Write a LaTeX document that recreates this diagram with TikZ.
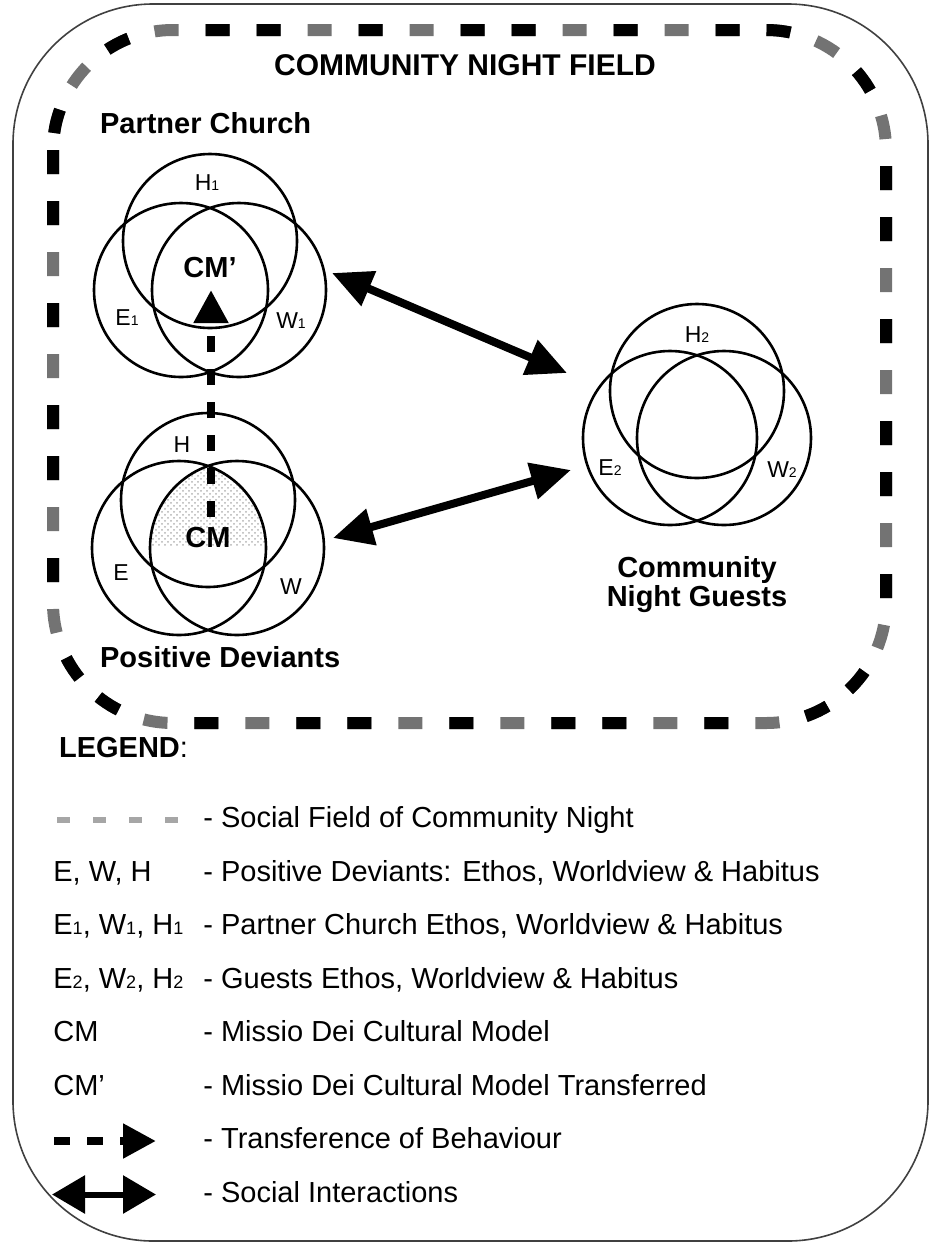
\documentclass[tikz,border=0pt]{standalone}
\usepackage{fontspec}
\setmainfont{Liberation Sans}
\usetikzlibrary{arrows.meta,patterns}
\def\vsub#1{{\fontsize{7}{8}\selectfont #1}}
\def\lsub#1{{\fontsize{9}{10}\selectfont #1}}
\tikzset{
	ring/.style={circle, draw, line width=1.3pt, minimum size=87pt, inner sep=0pt},
	vlabel/.style={font=\fontsize{11.5}{13}\selectfont},
	cmlabel/.style={font=\bfseries\fontsize{14.5}{17}\selectfont},
	grouplabel/.style={font=\bfseries\fontsize{14.5}{14.5}\selectfont},
	legtext/.style={font=\fontsize{14.5}{17}\selectfont, anchor=west, text height=10.5pt, text depth=3pt, inner sep=0pt},
	fieldline/.style={line width=6pt, rounded corners=60pt},
	legfield/.style={line width=3pt, black!35, dash pattern=on 6.5pt off 11.5pt},
	interact/.style={line width=4pt, {Triangle[length=20pt,width=18pt]}-{Triangle[length=20pt,width=18pt]}},
	transfer/.style={line width=4pt, dash pattern=on 8pt off 8.5pt, -{Triangle[length=16.5pt,width=16.5pt]}},
}

\begin{document}
\begin{tikzpicture}[x=0.5pt, y=-0.5pt]
			\useasboundingbox (0,0) rectangle (930,1244);
			
			%%%%% FRAME %%%%%
			\draw[line width=0.8pt, black!75, rounded corners=70pt] (13,4) rectangle (928,1241);
			
			%%%%% SOCIAL FIELD %%%%%
			\draw[fieldline, black!55, dash pattern=on 12pt off 13.5pt] (53,30) rectangle (886,723);
			\draw[fieldline, black, dash pattern=on 12pt off 13.5pt on 12pt off 13.5pt on 0pt off 25.5pt on 12pt off 39pt] (53,30) rectangle (886,723);
			\node[font=\bfseries\fontsize{15}{18}\selectfont, anchor=base] (title) at (465,75) {COMMUNITY NIGHT FIELD};
			
			%%%%% PARTNER CHURCH %%%%%
			\node[grouplabel, anchor=base west] (pcName) at (93,133) {Partner Church};
			\node[ring] (pcH) at (210,241) {};
			\node[ring] (pcE) at (181,290) {};
			\node[ring] (pcW) at (239,290) {};
			\node[vlabel] (pcHtxt) at (207,183) {H\vsub{1}};
			\node[vlabel] (pcEtxt) at (127,318) {E\vsub{1}};
			\node[vlabel] (pcWtxt) at (291,321) {W\vsub{1}};
			\node[cmlabel] (cmT) at (210,268) {CM’};
			
			%%%%% POSITIVE DEVIANTS %%%%%
			\begin{scope}
				\clip (179,548) circle[radius=43.5pt];
				\clip (237,548) circle[radius=43.5pt];
				\clip (208,500) circle[radius=43.5pt];
				\fill[pattern=crosshatch dots, pattern color=black!30] (150,465) rectangle (265,545);
			\end{scope}
			\node[ring] (pdH) at (208,500) {};
			\node[ring] (pdE) at (179,548) {};
			\node[ring] (pdW) at (237,548) {};
			\node[vlabel] (pdHtxt) at (182,445) {H};
			\node[vlabel] (pdEtxt) at (121,573) {E};
			\node[vlabel] (pdWtxt) at (291,587) {W};
			\node[cmlabel] (cm) at (208,538) {CM};
			\node[grouplabel, anchor=base west] (pdName) at (93,667) {Positive Deviants};
			
			%%%%% GUESTS %%%%%
			\node[ring] (ngH) at (697,391) {};
			\node[ring] (ngE) at (670,438) {};
			\node[ring] (ngW) at (724,438) {};
			\node[vlabel] (ngHtxt) at (697,335) {H\vsub{2}};
			\node[vlabel] (ngEtxt) at (610,468) {E\vsub{2}};
			\node[vlabel] (ngWtxt) at (782,470) {W\vsub{2}};
			\node[grouplabel, align=center] (ngName) at (697,585) {Community\\Night Guests};
			
			%%%%% ARROWS %%%%%
			\coordinate (tr1) at (211,517);
			\coordinate (tr2) at (211,290);
			\draw[transfer] (tr1) -- (tr2);
			
			\coordinate (ia1) at (332,273);
			\coordinate (ib1) at (567,373);
			\draw[interact] (ia1) -- (ib1);
			\coordinate (ia2) at (333,538);
			\coordinate (ib2) at (571,470);
			\draw[interact] (ia2) -- (ib2);
			
			%%%%% LEGEND %%%%%
			\node[font=\bfseries\fontsize{14.5}{17}\selectfont, anchor=base west] (legend) at (52,757) {LEGEND{\mdseries:}};
			
			\coordinate (lf1) at (57,820);
			\coordinate (lf2) at (180,820);
			\draw[legfield] (lf1) -- (lf2);
			\node[legtext] (leg1) at (203,820) {- Social Field of Community Night};
			
			\node[legtext] (key2) at (53,873.5) {E, W, H};
			\node[legtext] (leg2) at (203,873.5) {- Positive Deviants: Ethos, Worldview \& Habitus};
			
			\node[legtext] (key3) at (53,927) {E\lsub{1}, W\lsub{1}, H\lsub{1}};
			\node[legtext] (leg3) at (203,927) {- Partner Church Ethos, Worldview \& Habitus};
			
			\node[legtext] (key4) at (53,980.5) {E\lsub{2}, W\lsub{2}, H\lsub{2}};
			\node[legtext] (leg4) at (203,980.5) {- Guests Ethos, Worldview \& Habitus};
			
			\node[legtext] (key5) at (53,1034) {CM};
			\node[legtext] (leg5) at (203,1034) {- Missio Dei Cultural Model};
			
			\node[legtext] (key6) at (53,1087.5) {CM’};
			\node[legtext] (leg6) at (203,1087.5) {- Missio Dei Cultural Model Transferred};
			
			\coordinate (lt1) at (54,1141);
			\coordinate (lt2) at (156,1141);
			\draw[transfer] (lt1) -- (lt2);
			\node[legtext] (leg7) at (203,1141) {- Transference of Behaviour};
			
			\coordinate (li1) at (52,1194.5);
			\coordinate (li2) at (156,1194.5);
			\draw[interact, {Triangle[length=16.5pt,width=18.5pt]}-{Triangle[length=16.5pt,width=18.5pt]}, line width=3pt] (li1) -- (li2);
			\node[legtext] (leg8) at (203,1194.5) {- Social Interactions};
			
\end{tikzpicture}
\end{document}
